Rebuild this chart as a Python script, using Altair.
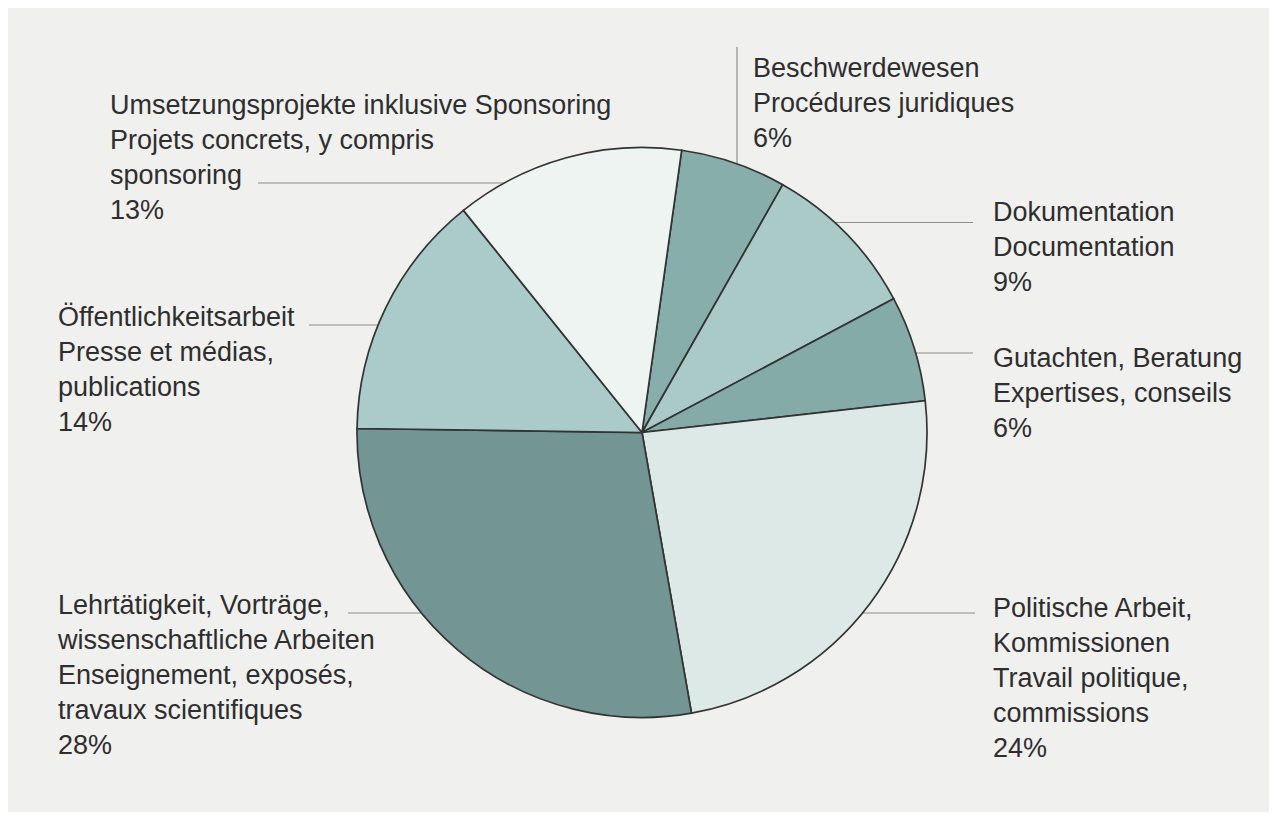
import math
import altair as alt
import pandas as pd

# ---- data ----
categories = [
    "Beschwerdewesen",
    "Dokumentation",
    "Gutachten, Beratung",
    "Politische Arbeit, Kommissionen",
    "Lehrtätigkeit, Vorträge, wissenschaftliche Arbeiten",
    "Öffentlichkeitsarbeit",
    "Umsetzungsprojekte inklusive Sponsoring",
]
shares = [6, 9, 6, 24, 28, 14, 13]
label_lines = [
    ["Beschwerdewesen", "Procédures juridiques", "6%"],
    ["Dokumentation", "Documentation", "9%"],
    ["Gutachten, Beratung", "Expertises, conseils", "6%"],
    ["Politische Arbeit,", "Kommissionen", "Travail politique,", "commissions", "24%"],
    ["Lehrtätigkeit, Vorträge,", "wissenschaftliche Arbeiten", "Enseignement, exposés,",
     "travaux scientifiques", "28%"],
    ["Öffentlichkeitsarbeit", "Presse et médias,", "publications", "14%"],
    ["Umsetzungsprojekte inklusive Sponsoring", "Projets concrets, y compris",
     "sponsoring", "13%"],
]

# ---- layout / style ----
colors = ["#88aeab", "#aacac8", "#85aba8", "#dde9e6", "#739593", "#aacbc9", "#eef4f2"]
M = 8  # page margin
W, H = 1277 - 2 * M, 820 - 2 * M
cx, cy, R = 642 - M, 432.5 - M, 285
start = math.radians(8)
label_anchor = [(753, 77), (993, 221), (993, 367), (993, 617), (58, 613.5), (58, 326), (110, 113.5)]
line_step = 35
leaders = [  # x1, y1, x2, y2 (page px)
    (737, 47, 737, 164),
    (835, 222.5, 973, 222.5),
    (916, 353, 973, 353),
    (863, 613, 975, 613),
    (348, 613, 421, 613),
    (309, 325, 377, 325),
    (258, 183, 505, 183),
]
font = "Liberation Sans"

pie_df = pd.DataFrame({"cat": categories, "share": shares, "ord": list(range(len(categories)))})

rows = []
for (ax, ay), lines in zip(label_anchor, label_lines):
    for i, t in enumerate(lines):
        rows.append({"x": ax - M, "y": ay - M + i * line_step, "t": t})
text_df = pd.DataFrame(rows)
lead_df = pd.DataFrame([{"x": a - M, "y": b - M, "x2": c - M, "y2": d - M} for a, b, c, d in leaders])

pie = alt.Chart(pie_df).mark_arc(radius=R, stroke="#333333", strokeWidth=1.7).encode(
    theta=alt.Theta("share:Q", stack=True, scale=alt.Scale(range=[start, start + 2 * math.pi])),
    order=alt.Order("ord:Q"),
    color=alt.Color("cat:N", scale=alt.Scale(domain=categories, range=colors), legend=None),
    x=alt.value(cx),
    y=alt.value(cy),
)

leader = alt.Chart(lead_df).mark_rule(color="#8c8c8c", strokeWidth=1.2).encode(
    x=alt.X("x:Q", scale=None, axis=None),
    y=alt.Y("y:Q", scale=None, axis=None),
    x2="x2:Q",
    y2="y2:Q",
)

labels = alt.Chart(text_df).mark_text(
    align="left", baseline="alphabetic", font=font, fontSize=27, color="#2e2e2e"
).encode(
    x=alt.X("x:Q", scale=None, axis=None),
    y=alt.Y("y:Q", scale=None, axis=None),
    text="t:N",
)

chart = alt.layer(leader, pie, labels).properties(
    width=W, height=H, padding=0, autosize=alt.AutoSizeParams(type="none"),
    background="#f0f0ee",
).configure_view(stroke=None)

chart.save("out.html", embed_options={"renderer": "svg", "actions": False})
